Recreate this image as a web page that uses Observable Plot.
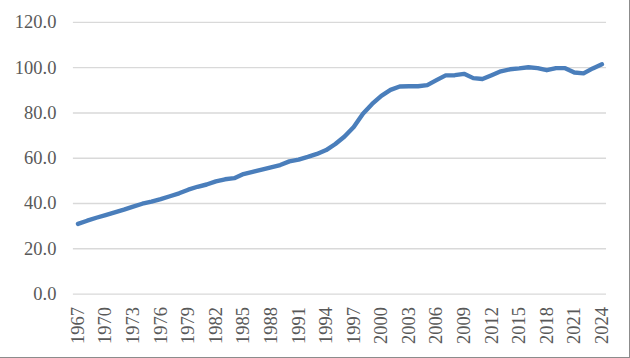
<!DOCTYPE html>
<html>
<head>
<meta charset="utf-8">
<script src="https://cdn.jsdelivr.net/npm/d3@7"></script>
<script src="https://cdn.jsdelivr.net/npm/@observablehq/plot@0.6"></script>
<style>
  html, body { margin: 0; padding: 0; background: #fff; }
  #chart { width: 629px; height: 357px; border-right: 1px solid #8c8c8c; border-bottom: 1px solid #8c8c8c; overflow: hidden; background: #fff; }
  svg { display: block; }
</style>
</head>
<body>
<div id="chart"></div>
<script>
const years = [1967,1968,1969,1970,1971,1972,1973,1974,1975,1976,1977,1978,1979,1980,1981,1982,1983,1984,1985,1986,1987,1988,1989,1990,1991,1992,1993,1994,1995,1996,1997,1998,1999,2000,2001,2002,2003,2004,2005,2006,2007,2008,2009,2010,2011,2012,2013,2014,2015,2016,2017,2018,2019,2020,2021,2022,2023,2024];
const values = [31.0,32.4,33.7,34.9,36.1,37.3,38.6,39.9,40.8,41.9,43.2,44.5,46.1,47.4,48.4,49.8,50.7,51.2,53.0,54.0,55.0,56.0,57.0,58.6,59.4,60.6,61.9,63.6,66.3,69.6,73.8,79.7,84.0,87.6,90.2,91.7,91.8,91.8,92.3,94.5,96.6,96.7,97.3,95.4,95.0,96.7,98.4,99.3,99.7,100.2,99.8,98.9,99.8,99.8,97.9,97.5,99.7,101.5];
const yTicks = [0,20,40,60,80,100,120];
const xTickLabels = [1967,1970,1973,1976,1979,1982,1985,1988,1991,1994,1997,2000,2003,2006,2009,2012,2015,2018,2021,2024];

const data = years.map((y, i) => ({year: y, value: values[i]}));

const chart = Plot.plot({
  width: 630,
  height: 358,
  marginLeft: 73,
  marginRight: 23,
  marginTop: 22,
  marginBottom: 64,
  style: {fontFamily: "'Liberation Serif', serif", fontSize: "18px", color: "#595959", background: "transparent"},
  x: {type: "point", domain: years, padding: 0.5, round: false, label: null},
  y: {domain: [0, 120], label: null},
  marks: [
    Plot.ruleY(yTicks, {stroke: "#d9d9d9", strokeWidth: 1.3}),
    Plot.axisY({ticks: yTicks, tickFormat: d3.format(".1f"), tickSize: 0, tickPadding: 17, fill: "#595959", fontSize: 18.5}),
    Plot.axisX({ticks: xTickLabels, tickFormat: d => String(d), tickSize: 0, tickPadding: 13, tickRotate: -90, fill: "#595959", fontSize: 18.5}),
    Plot.line(data, {x: "year", y: "value", stroke: "#4A7EBB", strokeWidth: 4.4, strokeLinejoin: "round", strokeLinecap: "round"})
  ]
});
document.getElementById("chart").appendChild(chart);
</script>
</body>
</html>
